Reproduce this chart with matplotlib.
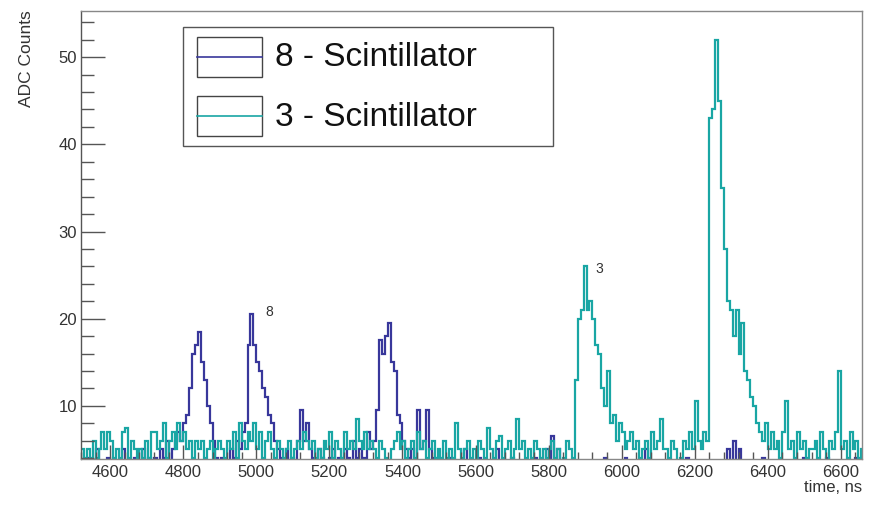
import numpy as np
import matplotlib
matplotlib.use("Agg")
import matplotlib.pyplot as plt
from matplotlib.patches import Rectangle
from matplotlib.lines import Line2D

plt.rcParams['font.family'] = ['Liberation Sans', 'DejaVu Sans']

# 8 ns bins starting at 4520 ns, one row per 200 ns
bin_start = 4520
bin_width = 8

counts_8 = [
    [0, 0, 4, 0, 0, 5, 0, 0, 0, 4, 0, 0, 0, 0, 5, 0, 0, 0, 4, 0, 0, 5, 0, 4, 0],
    [4, 0, 5, 4, 6, 0, 5, 6, 7, 6, 8, 9, 12, 16, 17, 18.5, 15, 13, 10, 8, 6, 4, 0, 4, 0],
    [0, 5, 4, 6, 5, 7, 8, 17, 20.5, 17, 15, 14, 12, 11, 9, 8, 6, 5, 4, 0, 5, 0, 4, 0, 6],
    [9.5, 6, 8, 5, 4, 0, 5, 4, 0, 0, 4, 5, 0, 4, 0, 5, 4, 0, 6, 4, 5, 0, 4, 7, 5],
    [6, 9.5, 17.5, 16, 18, 19.5, 15, 14, 9, 8, 6, 5, 4, 5, 0, 9.5, 5, 6, 9.5, 5, 4, 0, 4, 0, 0],
    [0, 4, 0, 0, 0, 0, 5, 0, 0, 0, 0, 4, 0, 0, 0, 0, 0, 5, 0, 0, 0, 0, 4, 0, 0],
    [0, 0, 0, 0, 0, 4, 0, 0, 0, 5, 0, 6.5, 0, 5, 0, 0, 0, 0, 0, 0, 0, 0, 0, 0, 0],
    [0, 0, 0, 0, 4, 0, 0, 0, 0, 0, 0, 4, 0, 0, 0, 0, 0, 0, 5, 0, 0, 0, 0, 0, 0],
    [0, 0, 0, 0, 0, 0, 0, 4, 0, 0, 0, 0, 0, 0, 0, 0, 0, 0, 0, 0, 0, 5, 0, 6, 0],
    [5, 0, 0, 0, 0, 0, 0, 0, 4, 0, 0, 0, 0, 0, 0, 0, 0, 0, 0, 0, 0, 0, 4, 0, 0],
    [0, 0, 0, 0, 0, 4, 0, 0, 0, 0, 0, 0, 0, 0, 0, 4, 0, 0],
]

counts_3 = [
    [5, 4, 5, 4, 6, 4, 5, 7, 5, 7, 6, 4, 5, 4, 7, 7.5, 4, 6, 5, 0, 5, 4, 6, 4, 7],
    [7, 5, 6, 8, 4, 6, 7, 5, 8, 6, 7, 5, 6, 4, 6, 5, 6, 4, 5, 6, 4, 5, 6, 5, 4],
    [6, 5, 7, 4, 8, 6, 5, 7, 6, 8, 5, 7, 4, 6, 7, 5, 4, 6, 5, 4, 5, 6, 4, 5, 6],
    [5, 7, 6, 5, 6, 4, 5, 4, 6, 5, 7, 4, 6, 5, 4, 7, 5, 6, 5, 8.5, 6, 5, 7, 5, 6],
    [5, 4, 6, 5, 4, 0, 5, 6, 7, 5, 6, 4, 5, 6, 4, 7, 5, 6, 4, 5, 6, 4, 5, 4, 6],
    [4, 5, 4, 8, 5, 4, 5, 6, 4, 5, 4, 6, 5, 4, 7.5, 5, 4, 6, 6.5, 4, 5, 6, 4, 5, 8.5],
    [5, 6, 4, 5, 4, 6, 5, 4, 5, 4, 5, 6, 4, 5, 0, 4, 6, 5, 4, 13, 20, 21, 26, 21, 22],
    [20, 17, 16, 12, 10, 14, 8, 9, 6, 8, 7, 5, 6, 7, 5, 6, 4, 5, 6, 4, 7, 5, 6, 8.5, 5],
    [5, 4, 6, 5, 0, 4, 6, 5, 7, 5, 10.5, 6, 5, 7, 6, 43, 44, 52, 45, 35, 28, 22, 21, 18, 21],
    [16, 19.5, 14, 13, 11, 10, 8, 7, 6, 8, 5, 7, 5, 6, 4, 7, 10.5, 5, 6, 4, 7, 5, 6, 4, 5],
    [5, 6, 4, 7, 5, 0, 6, 5, 7, 14, 5, 6, 4, 7, 5, 6, 4, 5],
]

h8 = np.concatenate([np.array(r, dtype=float) for r in counts_8])
h3 = np.concatenate([np.array(r, dtype=float) for r in counts_3])
edges = bin_start + bin_width * np.arange(len(h8) + 1)

c8 = '#38379b'
c3 = '#19a6a4'

fig = plt.figure(figsize=(8.74, 5.05), dpi=100)
ax = fig.add_axes([81/874, 46/505, 781/874, 448/505])

ax.stairs(h8, edges, color=c8, lw=1.6)
ax.stairs(h3, edges, color=c3, lw=1.6)

ax.set_xlim(4520, 6658)
ax.set_ylim(3.9, 55.3)

ax.set_xticks(np.arange(4600, 6601, 200))
ax.set_xticks(np.arange(4520, 6660, 40), minor=True)
ax.set_yticks(np.arange(10, 51, 10))
ax.set_yticks(np.arange(4, 55, 2), minor=True)

ax.tick_params(axis='both', which='both', direction='in', colors='#555555',
               labelcolor='#333333', labelsize=12, width=1)
ax.tick_params(axis='y', which='major', length=17, pad=3)
ax.tick_params(axis='y', which='minor', length=9)
ax.tick_params(axis='x', which='major', length=10, pad=4)
ax.tick_params(axis='x', which='minor', length=5)

for side in ['top', 'right', 'bottom']:
    ax.spines[side].set_color('#888888')
ax.spines['left'].set_color('#555555')
for s in ax.spines.values():
    s.set_linewidth(1.0)

fig.text(27/874, 1 - 10/505, 'ADC Counts', rotation=90, ha='center', va='top',
         fontsize=12.5, color='#333333')
fig.text(862/874, 1 - 488/505, 'time, ns', ha='right', va='center',
         fontsize=12, color='#333333')

ax.text(5024, 20.0, '8', ha='left', va='bottom', fontsize=10, color='#333333')
ax.text(5927, 24.9, '3', ha='left', va='bottom', fontsize=10, color='#333333')

# legend box drawn in figure coordinates
def fx(px):
    return px / 874

def fy(py):
    return 1 - py / 505

fig.add_artist(Rectangle((fx(183), fy(146)), fx(553) - fx(183), fy(27) - fy(146),
                         transform=fig.transFigure, fill=True, facecolor='white',
                         edgecolor='#555555', lw=1.0))
entries = [('8 - Scintillator', c8, 37, 77), ('3 - Scintillator', c3, 96, 136)]
for label, col, ytop, ybot in entries:
    fig.add_artist(Rectangle((fx(197), fy(ybot)), fx(262) - fx(197), fy(ytop) - fy(ybot),
                             transform=fig.transFigure, fill=False,
                             edgecolor='#444444', lw=1.0))
    ym = fy((ytop + ybot) / 2)
    fig.add_artist(Line2D([fx(197), fx(262)], [ym, ym], transform=fig.transFigure,
                          color=col, lw=1.2))
    fig.text(fx(275), fy((ytop + ybot) / 2 + 1), label, ha='left', va='center',
             fontsize=24, color='#111111')

fig.savefig('out.png', dpi=100)
